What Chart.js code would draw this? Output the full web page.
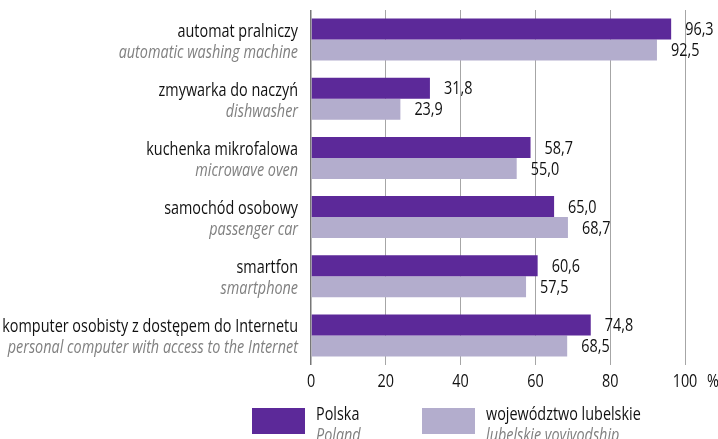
<!DOCTYPE html>
<html>
<head>
<meta charset="utf-8">
<script src="https://cdn.jsdelivr.net/npm/chart.js@4"></script>
<style>
  html, body { margin: 0; padding: 0; background: #fff; }
  canvas { display: block; }
</style>
</head>
<body>
<canvas id="chart" width="718" height="439"></canvas>
<script>
const categoriesPl = ['automat pralniczy', 'zmywarka do naczyń', 'kuchenka mikrofalowa', 'samochód osobowy', 'smartfon', 'komputer osobisty z dostępem do Internetu'];
const categoriesEn = ['automatic washing machine', 'dishwasher', 'microwave oven', 'passenger car', 'smartphone', 'personal computer with access to the Internet'];
const polska = [96.3, 31.8, 58.7, 65.0, 60.6, 74.8];
const lubelskie = [92.5, 23.9, 55.0, 68.7, 57.5, 68.5];
const seriesPl = ['Polska', 'województwo lubelskie'];
const seriesEn = ['Poland', 'lubelskie voyivodship'];
const xTicks = [0, 20, 40, 60, 80, 100];

const FONT = "'Open Sans', 'Noto Sans', sans-serif";
const DARK = '#5c2999';
const LIGHT = '#b3adcd';
const SQUEEZE = 0.8; // condensed look

const fmt = v => v.toFixed(1).replace('.', ',');

// draws text horizontally squeezed to mimic a condensed face
function text(ctx, str, x, y, align, font, color) {
  ctx.save();
  ctx.font = font;
  ctx.fillStyle = color;
  ctx.textAlign = align;
  ctx.translate(x, y);
  ctx.scale(SQUEEZE, 1);
  ctx.fillText(str, 0, 0);
  ctx.restore();
}

const drawExtras = {
  id: 'drawExtras',
  afterDatasetsDraw(chart) {
    const ctx = chart.ctx;
    ctx.save();
    ctx.textBaseline = 'middle';
    chart.data.datasets.forEach((ds, di) => {
      chart.getDatasetMeta(di).data.forEach((bar, i) => {
        text(ctx, fmt(ds.data[i]), bar.x + 14, bar.y + 1, 'left', '18px ' + FONT, '#111');
      });
    });
    ctx.restore();
  },
  afterDraw(chart) {
    const ctx = chart.ctx;
    const y = chart.scales.y;
    const x = chart.scales.x;
    const left = chart.chartArea.left - 13;
    ctx.save();
    ctx.textBaseline = 'alphabetic';
    categoriesPl.forEach((c, i) => {
      const cy = y.getPixelForValue(i);
      text(ctx, c, left, cy - 3, 'right', '18px ' + FONT, '#111');
      text(ctx, categoriesEn[i], left, cy + 18, 'right', 'italic 18px ' + FONT, '#808080');
    });

    // x tick labels and percent sign
    ctx.textBaseline = 'middle';
    x.ticks.forEach(t => {
      text(ctx, String(t.value), x.getPixelForValue(t.value), 382, 'center', '18px ' + FONT, '#111');
    });
    text(ctx, '%', 707, 382, 'left', '18px ' + FONT, '#111');

    // legend
    const colors = [DARK, LIGHT];
    const boxX = [252, 422];
    ctx.textBaseline = 'alphabetic';
    seriesPl.forEach((s, i) => {
      ctx.fillStyle = colors[i];
      ctx.fillRect(boxX[i], 408, 53, 26);
      text(ctx, s, boxX[i] + 64, 420, 'left', '18px ' + FONT, '#111');
      text(ctx, seriesEn[i], boxX[i] + 64, 441, 'left', 'italic 18px ' + FONT, '#808080');
    });
    ctx.restore();
  }
};

new Chart(document.getElementById('chart'), {
  type: 'bar',
  data: {
    labels: categoriesPl,
    datasets: [
      { label: seriesPl[0], data: polska, backgroundColor: DARK },
      { label: seriesPl[1], data: lubelskie, backgroundColor: LIGHT }
    ]
  },
  options: {
    indexAxis: 'y',
    responsive: false,
    animation: false,
    layout: { padding: { left: 311, right: 33, top: 10, bottom: 74 } },
    datasets: { bar: { categoryPercentage: 0.71, barPercentage: 1 } },
    plugins: {
      legend: { display: false },
      tooltip: { enabled: false }
    },
    scales: {
      x: {
        min: 0,
        max: 100,
        afterBuildTicks: axis => { axis.ticks = xTicks.map(v => ({ value: v })); },
        border: { display: false },
        grid: {
          drawTicks: false,
          color: c => c.index === 0 ? '#777' : '#a6a6a6',
          lineWidth: c => c.index === 0 ? 1.5 : 1
        },
        ticks: { display: false }
      },
      y: {
        display: false
      }
    }
  },
  plugins: [drawExtras]
});
</script>
</body>
</html>
